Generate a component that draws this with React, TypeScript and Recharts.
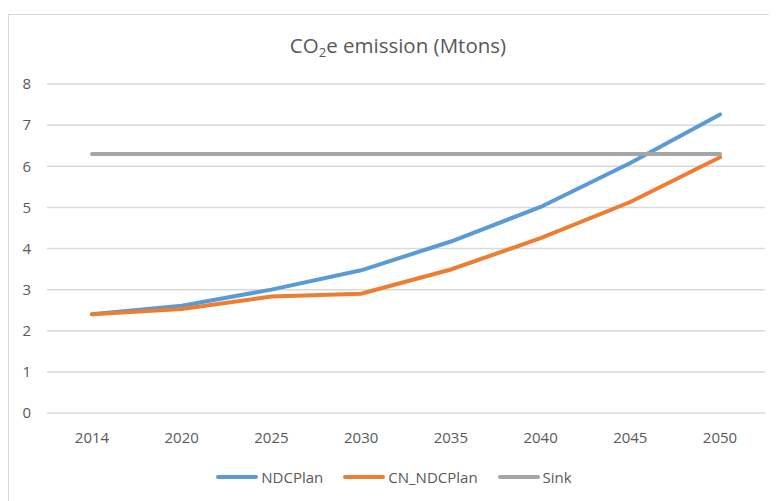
import React from 'react';
import { LineChart, Line, XAxis, YAxis, CartesianGrid, Legend } from 'recharts';

const years = ['2014', '2020', '2025', '2030', '2035', '2040', '2045', '2050'];
const ndcPlan = [2.4, 2.61, 3.0, 3.47, 4.17, 5.01, 6.08, 7.26];
const cnNdcPlan = [2.4, 2.53, 2.83, 2.9, 3.49, 4.25, 5.13, 6.22];
const sink = [6.3, 6.3, 6.3, 6.3, 6.3, 6.3, 6.3, 6.3];
const yTicks = [0, 1, 2, 3, 4, 5, 6, 7, 8];
const seriesOrder = ['NDCPlan', 'CN_NDCPlan', 'Sink'];

const data = years.map((y, i) => ({
  year: y,
  NDCPlan: ndcPlan[i],
  CN_NDCPlan: cnNdcPlan[i],
  Sink: sink[i],
}));

const FONT = '"Open Sans", sans-serif';
const TEXT = '#595959';

const LegendContent = (props: any) => {
  const payload = [...(props.payload || [])].sort(
    (a: any, b: any) => seriesOrder.indexOf(a.value) - seriesOrder.indexOf(b.value)
  );
  return (
    <div style={{ display: 'flex', justifyContent: 'center', paddingLeft: 14, fontFamily: FONT, fontSize: 15, color: TEXT }}>
      {payload.map((p: any, i: number) => (
        <div key={i} style={{ display: 'flex', alignItems: 'center', marginRight: i < 2 ? 20 : 0 }}>
          <svg width={42} height={6} style={{ marginRight: 3 }}>
            <line x1={2} y1={3} x2={40} y2={3} stroke={p.color} strokeWidth={4} strokeLinecap="round" />
          </svg>
          <span>{p.value}</span>
        </div>
      ))}
    </div>
  );
};

export default function App() {
  return (
    <div style={{ position: 'relative', marginTop: 6, width: 800, height: 520, border: '1px solid #d9d9d9', boxSizing: 'border-box' }}>
      <div style={{ position: 'absolute', left: 0, top: 16, width: 778, textAlign: 'center', fontFamily: FONT, fontSize: 20.5, color: TEXT }}>
        CO<sub style={{ fontSize: 13, verticalAlign: 'baseline', position: 'relative', top: 4 }}>2</sub>e emission (Mtons)
      </div>
      <LineChart width={769} height={486} data={data} margin={{ top: 69, right: 13, left: 0, bottom: 14 }}>
        <CartesianGrid vertical={false} stroke="#d9d9d9" strokeWidth={1.5} />
        <XAxis dataKey="year" axisLine={false} tickLine={false} tickSize={0} tickMargin={19} height={54}
          padding={{ left: 45, right: 45 }}
          tick={{ fill: TEXT, fontSize: 15, fontFamily: FONT }} interval={0} />
        <YAxis domain={[0, 8]} ticks={yTicks} axisLine={false} tickLine={false} tickSize={0} tickMargin={16} width={38}
          tick={{ fill: TEXT, fontSize: 15, fontFamily: FONT }} interval={0} />
        <Legend verticalAlign="bottom" content={<LegendContent />} />
        <Line dataKey="NDCPlan" stroke="#5B9BD5" strokeWidth={4} dot={false} isAnimationActive={false} strokeLinecap="round" />
        <Line dataKey="CN_NDCPlan" stroke="#ED7D31" strokeWidth={4} dot={false} isAnimationActive={false} strokeLinecap="round" />
        <Line dataKey="Sink" stroke="#A5A5A5" strokeWidth={4} dot={false} isAnimationActive={false} strokeLinecap="round" />
      </LineChart>
    </div>
  );
}
